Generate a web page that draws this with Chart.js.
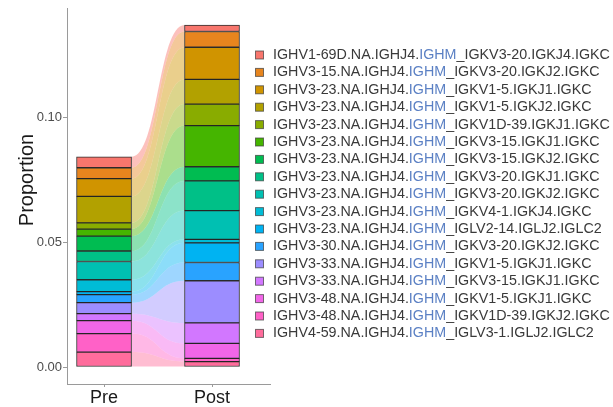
<!DOCTYPE html>
<html>
<head>
<meta charset="utf-8">
<script src="https://cdn.jsdelivr.net/npm/chart.js@4/dist/chart.umd.min.js"></script>
<style>
html,body{margin:0;padding:0;background:#ffffff;}
#wrap{width:613px;height:407px;position:relative;}
</style>
</head>
<body>
<div id="wrap"><canvas id="c" width="613" height="407"></canvas></div>
<script>
// ---- data ----
const categories = ['Pre', 'Post'];
const clonotypes = [
  'IGHV1-69D.NA.IGHJ4.IGHM_IGKV3-20.IGKJ4.IGKC',
  'IGHV3-15.NA.IGHJ4.IGHM_IGKV3-20.IGKJ2.IGKC',
  'IGHV3-23.NA.IGHJ4.IGHM_IGKV1-5.IGKJ1.IGKC',
  'IGHV3-23.NA.IGHJ4.IGHM_IGKV1-5.IGKJ2.IGKC',
  'IGHV3-23.NA.IGHJ4.IGHM_IGKV1D-39.IGKJ1.IGKC',
  'IGHV3-23.NA.IGHJ4.IGHM_IGKV3-15.IGKJ1.IGKC',
  'IGHV3-23.NA.IGHJ4.IGHM_IGKV3-15.IGKJ2.IGKC',
  'IGHV3-23.NA.IGHJ4.IGHM_IGKV3-20.IGKJ1.IGKC',
  'IGHV3-23.NA.IGHJ4.IGHM_IGKV3-20.IGKJ2.IGKC',
  'IGHV3-23.NA.IGHJ4.IGHM_IGKV4-1.IGKJ4.IGKC',
  'IGHV3-23.NA.IGHJ4.IGHM_IGLV2-14.IGLJ2.IGLC2',
  'IGHV3-30.NA.IGHJ4.IGHM_IGKV3-20.IGKJ2.IGKC',
  'IGHV3-33.NA.IGHJ4.IGHM_IGKV1-5.IGKJ1.IGKC',
  'IGHV3-33.NA.IGHJ4.IGHM_IGKV3-15.IGKJ1.IGKC',
  'IGHV3-48.NA.IGHJ4.IGHM_IGKV1-5.IGKJ1.IGKC',
  'IGHV3-48.NA.IGHJ4.IGHM_IGKV1D-39.IGKJ2.IGKC',
  'IGHV4-59.NA.IGHJ4.IGHM_IGLV3-1.IGLJ2.IGLC2'
];
const preValues  = [0.0044, 0.0044, 0.0071, 0.0106, 0.0025, 0.0028, 0.0060, 0.0042, 0.0073, 0.0048, 0.0012, 0.0032, 0.0044, 0.0028, 0.0052, 0.0074, 0.0060];
const postValues = [0.0026, 0.0063, 0.0129, 0.0099, 0.0086, 0.0165, 0.0057, 0.0119, 0.0115, 0.0014, 0.0079, 0.0073, 0.0169, 0.0082, 0.0060, 0.0013, 0.0022];
const yTicks = [0, 0.05, 0.10];
const yTitle = 'Proportion';
const highlightWord = 'IGHM';

// ---- styling ----
const palette = ['#F8766D','#E7851E','#D09400','#B2A100','#89AC00','#45B500','#00BC51','#00C087','#00C0B2','#00BCD6','#00B3F2','#29A3FF','#9C8DFF','#D277FF','#F166E8','#FF61C7','#FF6C9C'];
const FONT = '"Liberation Sans", Arial, Helvetica, sans-serif';
Chart.defaults.font.family = FONT;

function rgba(hex, a) {
  const n = parseInt(hex.slice(1), 16);
  return `rgba(${(n >> 16) & 255},${(n >> 8) & 255},${n & 255},${a})`;
}

const seriesBySample = [preValues, postValues];
const datasets = [];
for (let i = clonotypes.length - 1; i >= 0; i--) {
  datasets.push({
    label: clonotypes[i],
    data: categories.map((c, j) => ({ x: j + 1, y: seriesBySample[j][i] })),
    backgroundColor: palette[i],
    borderColor: 'rgba(25,25,25,0.9)',
    borderWidth: 1,
    borderSkipped: false,
    barThickness: 55,
    stack: 'all',
    flowColor: palette[i]
  });
}

const flowPlugin = {
  id: 'flows',
  beforeDatasetsDraw(chart) {
    const ctx = chart.ctx;
    ctx.save();
    chart.data.datasets.forEach((ds, di) => {
      const meta = chart.getDatasetMeta(di);
      const a = meta.data[0], b = meta.data[1];
      if (!a || !b) return;
      const x0 = a.x + a.width / 2, x1 = b.x - b.width / 2, xm = (x0 + x1) / 2;
      ctx.beginPath();
      ctx.moveTo(x0, a.y);
      ctx.bezierCurveTo(xm, a.y, xm, b.y, x1, b.y);
      ctx.lineTo(x1, b.base);
      ctx.bezierCurveTo(xm, b.base, xm, a.base, x0, a.base);
      ctx.closePath();
      ctx.fillStyle = rgba(ds.flowColor, 0.45);
      ctx.fill();
    });
    ctx.restore();
  }
};

const textPlugin = {
  id: 'texts',
  afterDraw(chart) {
    const ctx = chart.ctx;
    ctx.save();
    // y axis title
    ctx.translate(27, 180);
    ctx.rotate(-Math.PI / 2);
    ctx.font = '20px ' + FONT;
    ctx.fillStyle = '#1a1a1a';
    ctx.textAlign = 'center';
    ctx.textBaseline = 'middle';
    ctx.fillText(yTitle, 0, 0);
    ctx.restore();

    // legend
    ctx.save();
    ctx.font = '14.3px ' + FONT;
    ctx.textBaseline = 'middle';
    ctx.textAlign = 'left';
    const boxX = 255.5, textX = 273, top = 55, step = 17.4;
    clonotypes.forEach((name, i) => {
      const y = top + i * step;
      ctx.fillStyle = palette[i];
      ctx.fillRect(boxX, y - 4, 8, 8);
      ctx.strokeStyle = 'rgba(60,60,60,0.7)';
      ctx.lineWidth = 1;
      ctx.strokeRect(boxX, y - 4, 8, 8);
      const k = name.indexOf(highlightWord);
      const parts = [
        [name.slice(0, k), '#3a3a3a'],
        [highlightWord, '#5b80c4'],
        [name.slice(k + highlightWord.length), '#3a3a3a']
      ];
      let x = textX;
      parts.forEach(([t, col]) => {
        ctx.fillStyle = col;
        ctx.fillText(t, x, y);
        x += ctx.measureText(t).width;
      });
    });
    ctx.restore();
  }
};

new Chart(document.getElementById('c'), {
  type: 'bar',
  data: { datasets },
  options: {
    responsive: false,
    animation: false,
    devicePixelRatio: 1,
    layout: { padding: { left: 0, top: 5, right: 343, bottom: 0 } },
    plugins: { legend: { display: false }, tooltip: { enabled: false } },
    scales: {
      x: {
        type: 'linear',
        min: 0.657,
        max: 2.537,
        offset: false,
        stacked: true,
        afterBuildTicks: (s) => { s.ticks = categories.map((c, i) => ({ value: i + 1 })); },
        afterFit: (s) => { s.height = 23; },
        ticks: {
          autoSkip: false,
          maxRotation: 0,
          padding: 0,
          color: '#1a1a1a',
          font: { size: 18 },
          callback: (v) => categories[v - 1] || ''
        },
        grid: { display: true, offset: false, drawOnChartArea: false, drawTicks: true, tickLength: 3, color: '#9a9a9a' },
        border: { display: true, color: '#9a9a9a', width: 1 }
      },
      y: {
        min: -0.0068,
        max: 0.1436,
        stacked: true,
        afterBuildTicks: (s) => { s.ticks = yTicks.map(v => ({ value: v })); },
        afterFit: (s) => { s.width = 67; },
        ticks: {
          padding: 1,
          color: '#4d4d4d',
          font: { size: 13 },
          callback: (v) => Number(v).toFixed(2)
        },
        grid: { display: true, drawOnChartArea: false, drawTicks: true, tickLength: 4, color: '#9a9a9a' },
        border: { display: true, color: '#9a9a9a', width: 1 }
      }
    }
  },
  plugins: [flowPlugin, textPlugin]
});
</script>
</body>
</html>
